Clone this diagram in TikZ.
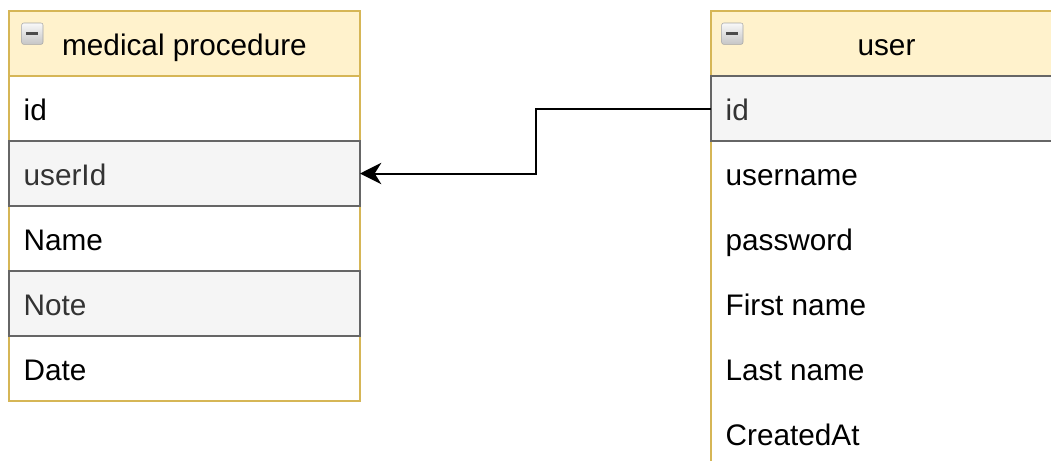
\documentclass[tikz,border=0pt]{standalone}
\usepackage{fontspec}
\setmainfont{Liberation Sans}
\usetikzlibrary{positioning,arrows.meta,backgrounds,calc}

\definecolor{hdrfill}{HTML}{FFF2CC}
\definecolor{hdrline}{HTML}{D6B656}
\definecolor{keyfill}{HTML}{F5F5F5}
\definecolor{keyline}{HTML}{666666}
\definecolor{keytext}{HTML}{333333}

% left aligned column name, full row width
\newcommand{\colname}[1]{\makebox[241.25pt][l]{#1}}

\begin{document}
\begin{tikzpicture}[x=0.75pt, y=-0.75pt,
font=\fontsize{22.3}{26}\selectfont,
field/.style={rectangle, minimum width=263.25pt, minimum height=48.75pt,
  inner xsep=11pt, inner ysep=0pt, outer sep=0pt,
  text height=20pt, text depth=2pt},
keyfield/.style={field, draw=keyline, fill=keyfill, text=keytext,
  line width=1.5pt},
header/.style={field, draw=hdrline, fill=hdrfill, line width=1.5pt},
frame/.style={draw=hdrline, line width=1.5pt},
collapse/.style={rectangle, rounded corners=1.5pt, draw=gray!70,
  top color=gray!5, bottom color=gray!45, minimum size=16pt,
  inner sep=0pt, outer sep=0pt,
  path picture={\draw[line width=2.4pt, black!70]
    ([xshift=3.5pt]path picture bounding box.west) --
    ([xshift=-3.5pt]path picture bounding box.east);}},
fk/.style={-{Stealth[length=16pt,width=16pt,inset=5pt]}, line width=1.5pt}
]
\useasboundingbox (0,0) rectangle (1051,461);

% medical procedure table
\node[header, anchor=north west] (phead) at (9,11) {medical procedure};
\node[collapse] (picon) [below right=9pt and 9.5pt of phead.north west] {};
\node[field] (pid) [below=0pt of phead] {\colname{id}};
\node[keyfield] (puserid) [below=0pt of pid] {\colname{userId}};
\node[field] (pname) [below=0pt of puserid] {\colname{Name}};
\node[keyfield] (pnote) [below=0pt of pname] {\colname{Note}};
\node[field] (pdate) [below=0pt of pnote] {\colname{Date}};

% user table
\node[header, anchor=north west] (uhead) at (711,11) {user};
\node[collapse] (uicon) [below right=9pt and 8pt of uhead.north west] {};
\node[keyfield] (uid) [below=0pt of uhead] {\colname{id}};
\node[field] (uname) [below=0pt of uid] {\colname{username}};
\node[field] (upass) [below=0pt of uname] {\colname{password}};
\node[field] (ufirst) [below=0pt of upass] {\colname{First name}};
\node[field] (ulast) [below=0pt of ufirst] {\colname{Last name}};
\node[field] (ucreated) [below=0pt of ulast] {\colname{CreatedAt}};

\begin{scope}[on background layer]
\draw[frame] (phead.north west) rectangle (pdate.south east);
\draw[frame] (uhead.north west) rectangle (ucreated.south east);
\end{scope}

% foreign key
\coordinate (elbow) at ($(uid.west)!0.5!(puserid.east)$);
\draw[fk] (uid.west) -| (elbow) |- (puserid.east);
\end{tikzpicture}
\end{document}
